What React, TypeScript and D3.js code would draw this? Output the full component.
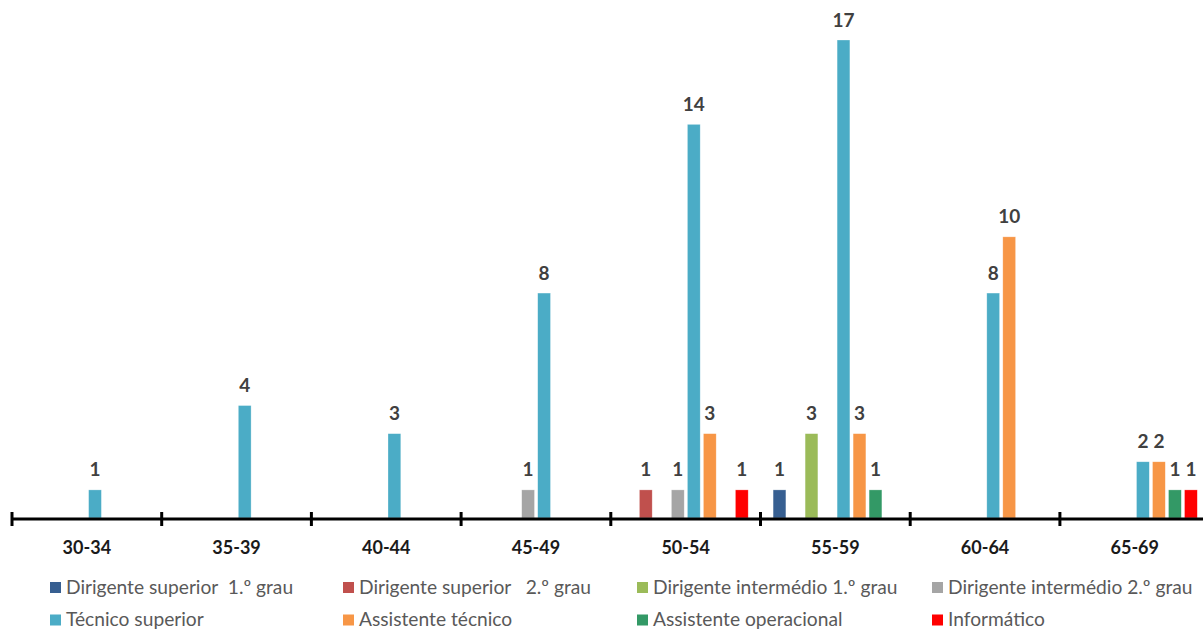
import React from "react";
import * as d3 from "d3";

const categories = ["30-34", "35-39", "40-44", "45-49", "50-54", "55-59", "60-64", "65-69"];

const seriesNames = [
  "Dirigente superior  1.º grau",
  "Dirigente superior   2.º grau",
  "Dirigente intermédio 1.º grau",
  "Dirigente intermédio 2.º grau",
  "Técnico superior",
  "Assistente técnico",
  "Assistente operacional",
  "Informático",
];

const dirigenteSuperior1 = [0, 0, 0, 0, 0, 1, 0, 0];
const dirigenteSuperior2 = [0, 0, 0, 0, 1, 0, 0, 0];
const dirigenteIntermedio1 = [0, 0, 0, 0, 0, 3, 0, 0];
const dirigenteIntermedio2 = [0, 0, 0, 1, 1, 0, 0, 0];
const tecnicoSuperior = [1, 4, 3, 8, 14, 17, 8, 2];
const assistenteTecnico = [0, 0, 0, 0, 3, 3, 10, 2];
const assistenteOperacional = [0, 0, 0, 0, 0, 1, 0, 1];
const informatico = [0, 0, 0, 0, 1, 0, 0, 1];

const seriesValues = [
  dirigenteSuperior1,
  dirigenteSuperior2,
  dirigenteIntermedio1,
  dirigenteIntermedio2,
  tecnicoSuperior,
  assistenteTecnico,
  assistenteOperacional,
  informatico,
];

const colors = ["#375F91", "#C0504D", "#9BBB59", "#A5A5A5", "#4BACC6", "#F79646", "#339966", "#FF0000"];

const W = 1203;
const H = 631;
const FONT = "Lato, 'Open Sans', sans-serif";

export default function App() {
  const x0 = d3.scaleBand<string>().domain(categories).range([12, 12 + 149.7 * 8]).padding(0);
  const x1 = d3
    .scaleBand<string>()
    .domain(seriesNames)
    .range([12.6, 149.7 - 12.3])
    .paddingInner(0.2)
    .paddingOuter(0);
  const y = d3.scaleLinear().domain([0, 17]).range([518, 40]);

  const ticks = d3.range(categories.length + 1).map((i) => 12 + 149.7 * i);

  const legendCols = [50, 343, 637, 932];
  const legendRows = [587.5, 620];

  return (
    <svg
      width={W}
      height={H}
      style={{ position: "absolute", left: 0, top: 0, background: "#fff" }}
      fontFamily={FONT}
    >
      {/* bars */}
      {categories.map((cat, ci) => (
        <g key={cat} transform={`translate(${x0(cat)},0)`}>
          {seriesNames.map((s, si) => {
            const v = seriesValues[si][ci];
            if (!v) return null;
            const bx = x1(s)!;
            const bw = x1.bandwidth();
            return (
              <g key={s}>
                <rect
                  x={bx}
                  y={y(v)}
                  width={bw}
                  height={y(0) - y(v)}
                  fill={colors[si]}
                  stroke="#ffffff"
                  strokeOpacity={0.5}
                  strokeWidth={0.6}
                />
                <text
                  x={bx + bw / 2}
                  y={y(v) - 13.5}
                  textAnchor="middle"
                  fontSize={19}
                  fontWeight="bold"
                  fill="#404040"
                >
                  {v}
                </text>
              </g>
            );
          })}
        </g>
      ))}

      {/* axis */}
      <line x1={12} x2={W} y1={519} y2={519} stroke="#000" strokeWidth={3} />
      {ticks.map((t, i) => (
        <line key={i} x1={t} x2={t} y1={512} y2={526} stroke="#000" strokeWidth={3} />
      ))}
      {categories.map((cat) => (
        <text
          key={cat}
          x={x0(cat)! + x0.bandwidth() / 2}
          y={554}
          textAnchor="middle"
          fontSize={18}
          fontWeight="bold"
          fill="#1a1a1a"
        >
          {cat}
        </text>
      ))}

      {/* legend */}
      {seriesNames.map((s, i) => {
        const lx = legendCols[i % 4];
        const ly = legendRows[Math.floor(i / 4)];
        return (
          <g key={s}>
            <rect x={lx} y={ly - 5.5} width={11} height={11} fill={colors[i]} />
            <text x={lx + 16} y={ly + 6} fontSize={19.2} fill="#595959" style={{ whiteSpace: "pre" }}>
              {s}
            </text>
          </g>
        );
      })}
    </svg>
  );
}
